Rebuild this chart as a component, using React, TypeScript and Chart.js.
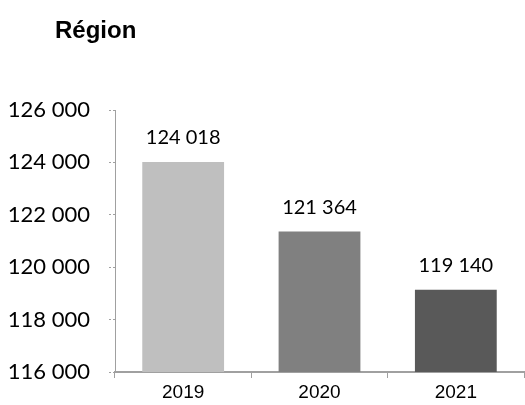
import React, { useEffect, useRef } from "react";
import { Chart, registerables } from "chart.js";

Chart.register(...registerables);

const categories = ["2019", "2020", "2021"];
const values = [124018, 121364, 119140];
const barColors = ["#bfbfbf", "#808080", "#595959"];
const titleText = "Région";
const yMin = 116000;
const yMax = 126000;
const yStep = 2000;

const fmt = (v: number) => String(Math.round(v)).replace(/\B(?=(\d{3})+(?!\d))/g, " ");

export default function App() {
  const ref = useRef<HTMLCanvasElement>(null);
  useEffect(() => {
    if (!ref.current) return;
    const labelPlugin = {
      id: "labels",
      afterDatasetsDraw(chart: any) {
        const ctx = chart.ctx;
        const meta = chart.getDatasetMeta(0);
        ctx.save();
        ctx.font = "20px Lato";
        ctx.fillStyle = "#000";
        ctx.textAlign = "center";
        ctx.textBaseline = "bottom";
        meta.data.forEach((el: any, i: number) => {
          ctx.fillText(fmt(values[i]), el.x, el.y - 14);
        });
        ctx.restore();
      },
      afterDraw(chart: any) {
        const ctx = chart.ctx;
        ctx.save();
        ctx.font = "bold 24px 'Liberation Sans'";
        ctx.fillStyle = "#000";
        ctx.textAlign = "left";
        ctx.textBaseline = "middle";
        ctx.fillText(titleText, 55, 31);
        ctx.restore();
      },
    };
    const chart = new Chart(ref.current, {
      type: "bar",
      data: {
        labels: categories,
        datasets: [
          {
            data: values,
            backgroundColor: barColors,
            barPercentage: 0.6,
            categoryPercentage: 1.0,
          },
        ],
      },
      options: {
        responsive: false,
        animation: false,
        layout: { padding: { top: 110, right: 1, left: 0, bottom: 0 } },
        plugins: { legend: { display: false }, tooltip: { enabled: false }, title: { display: false } },
        scales: {
          y: {
            min: yMin,
            max: yMax,
            afterFit: (s: any) => {
              s.width = 115;
            },
            ticks: {
              stepSize: yStep,
              callback: (v: any) => fmt(Number(v)),
              font: { family: "Lato", size: 22 },
              color: "#000",
              padding: 19,
            },
            grid: {
              drawOnChartArea: false,
              tickLength: 6,
              color: "#a0a0a0",
              tickBorderDash: [2, 2],
            },
            border: { display: true, color: "#a0a0a0", dash: [3, 2], width: 1 },
          },
          x: {
            afterFit: (s: any) => {
              s.height = 33;
            },
            ticks: {
              font: { family: "'Liberation Sans'", size: 19 },
              color: "#000",
              padding: 3,
            },
            grid: {
              drawOnChartArea: false,
              offset: true,
              tickLength: 6,
              color: "#a0a0a0",
            },
            border: { display: true, color: "#a0a0a0", width: 2 },
          },
        },
      },
      plugins: [labelPlugin],
    });
    return () => chart.destroy();
  }, []);
  return (
    <div style={{ position: "absolute", left: 0, top: 0, width: 525, height: 405, background: "#fff" }}>
      <canvas ref={ref} width={525} height={405} style={{ display: "block" }} />
    </div>
  );
}
